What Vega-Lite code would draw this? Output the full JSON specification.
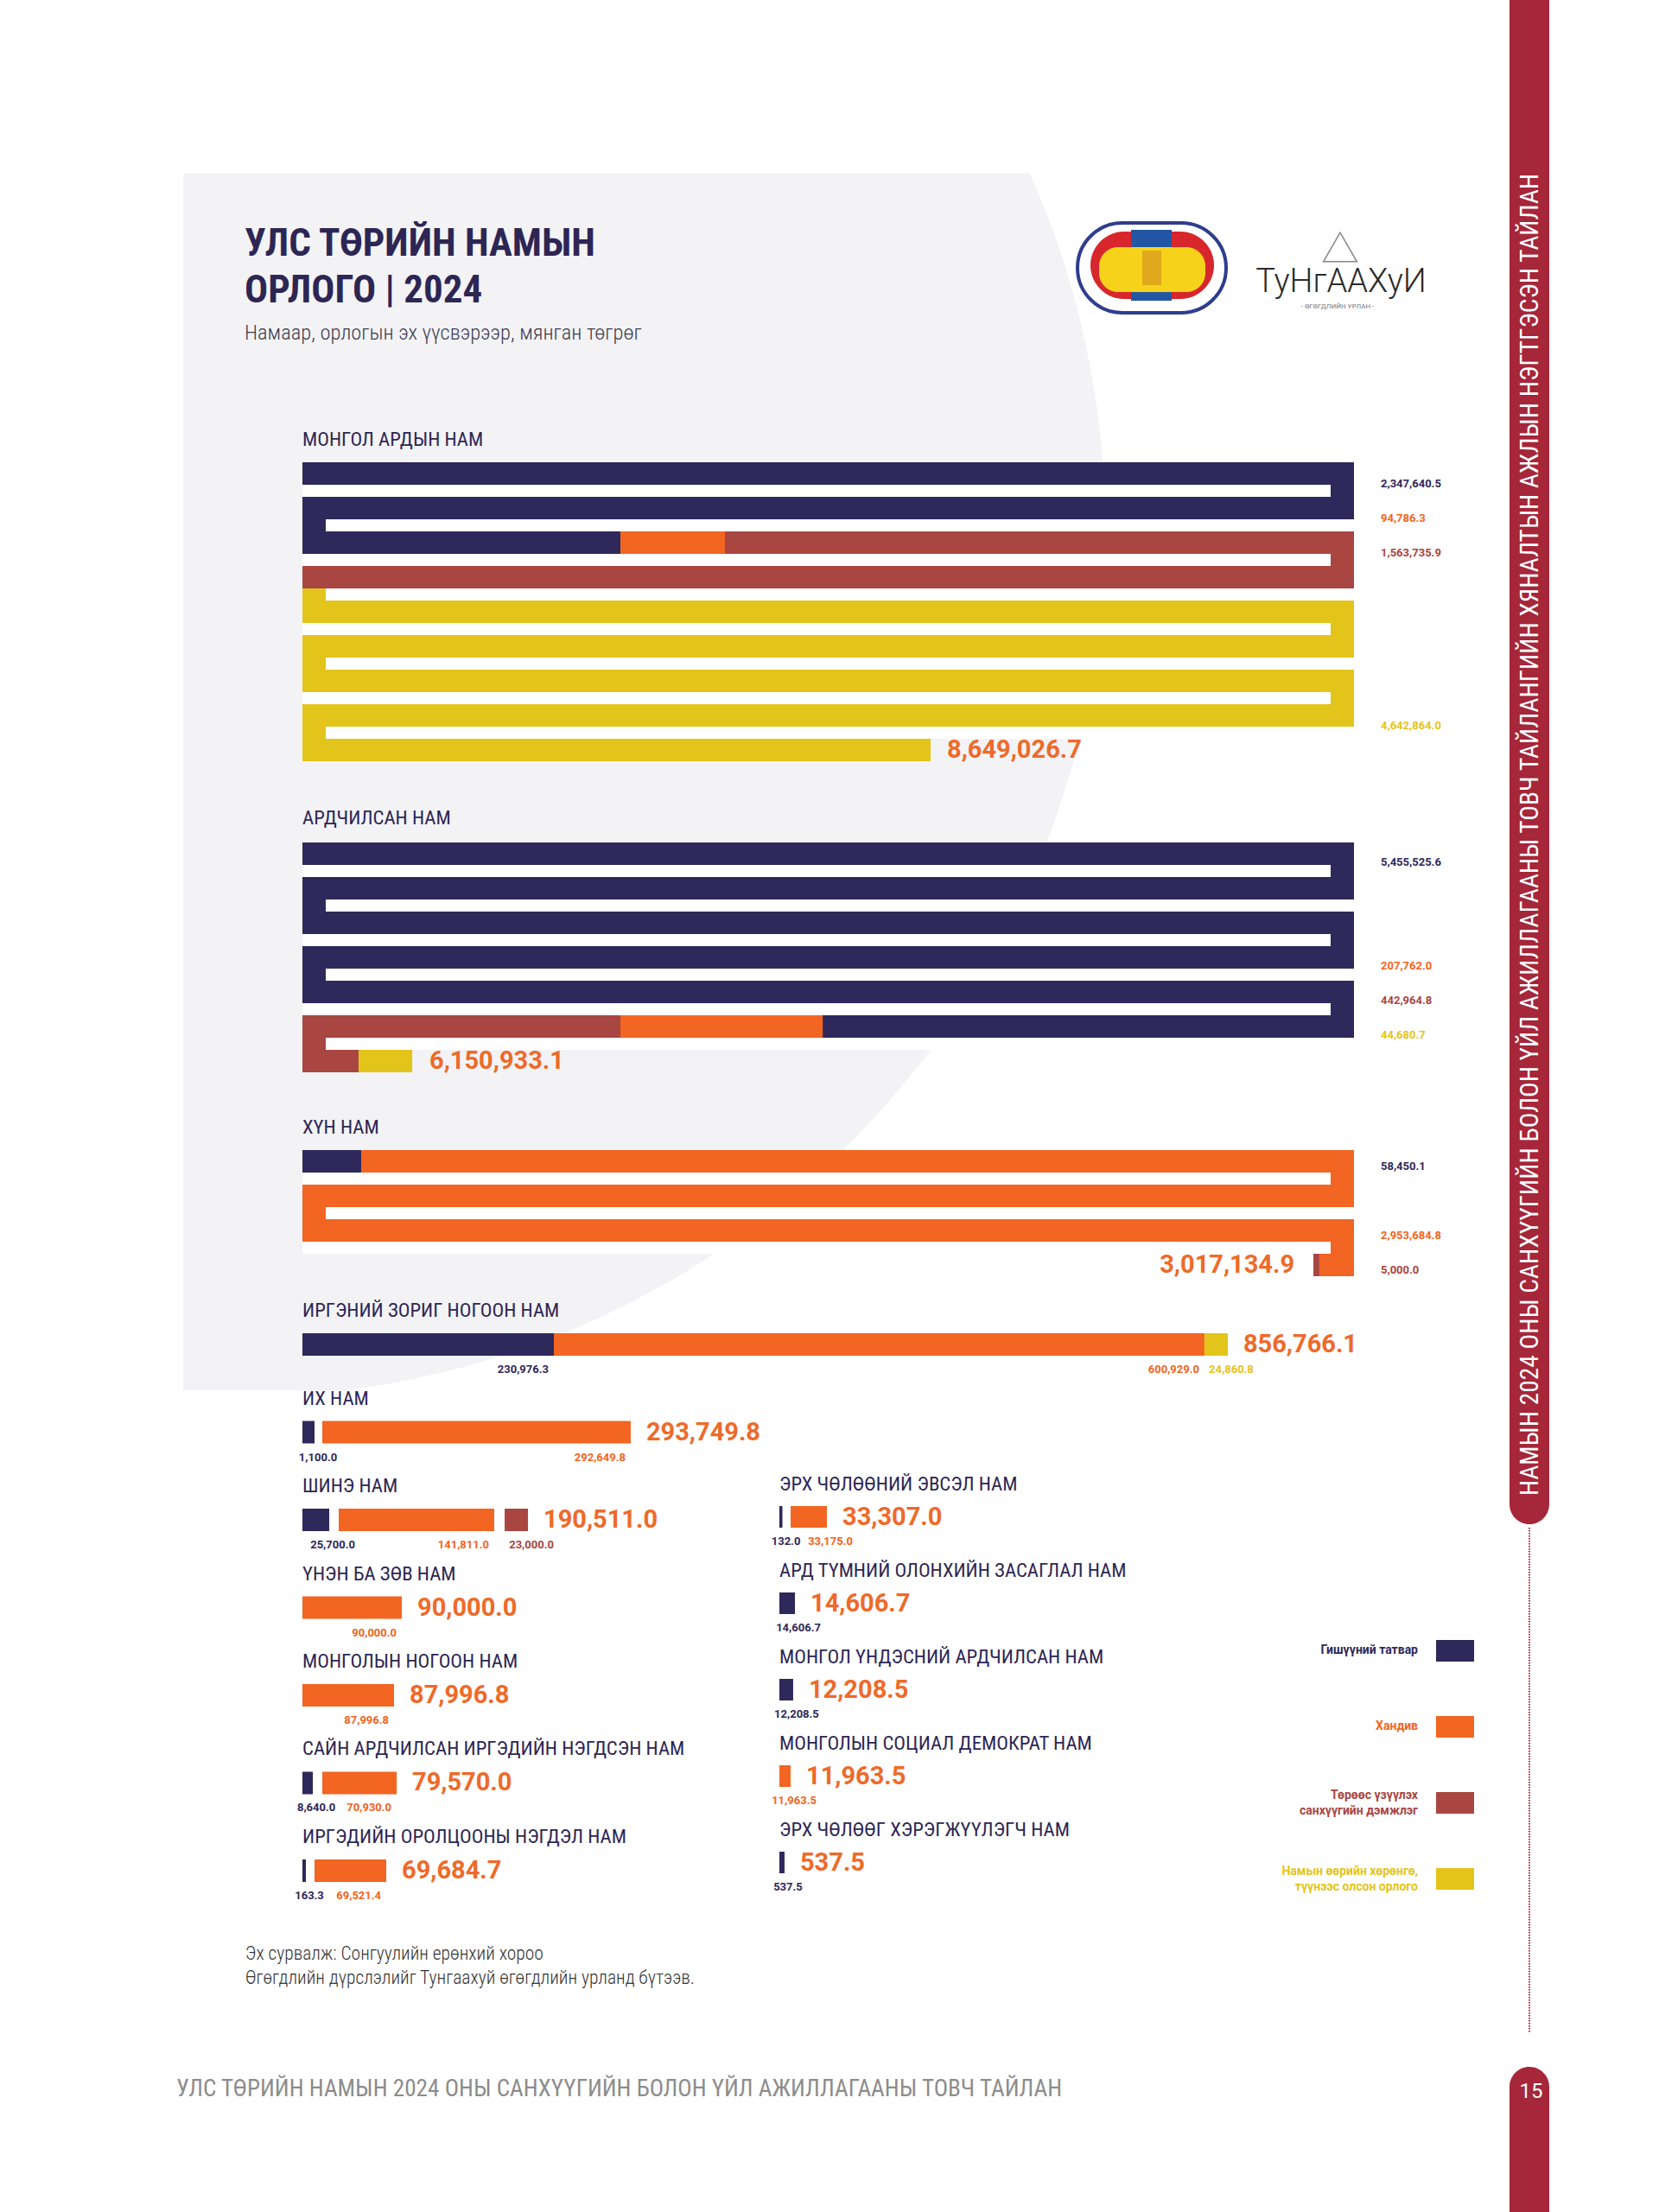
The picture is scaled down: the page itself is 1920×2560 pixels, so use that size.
{
  "$schema": "https://vega.github.io/schema/vega-lite/v6.json",
  "width": 1920,
  "height": 2560,
  "autosize": {"type": "fit", "contains": "padding"},
  "padding": 0,
  "background": "#ffffff",
  "config": {"view": {"stroke": null}, "font": "Roboto"},
  "datasets": {
    "segs": [
      {"party": "МОНГОЛ АРДЫН НАМ", "line": 1, "cat": "Гишүүний татвар", "x0": 0, "x1": 1000000},
      {"party": "МОНГОЛ АРДЫН НАМ", "line": 2, "cat": "Гишүүний татвар", "x0": 0, "x1": 1000000},
      {"party": "МОНГОЛ АРДЫН НАМ", "line": 3, "cat": "Гишүүний татвар", "x0": 0, "x1": 302400},
      {"party": "МОНГОЛ АРДЫН НАМ", "line": 3, "cat": "Хандив", "x0": 302400, "x1": 401800},
      {"party": "МОНГОЛ АРДЫН НАМ", "line": 3, "cat": "Төрөөс үзүүлэх санхүүгийн дэмжлэг", "x0": 401800, "x1": 1000000},
      {"party": "МОНГОЛ АРДЫН НАМ", "line": 4, "cat": "Төрөөс үзүүлэх санхүүгийн дэмжлэг", "x0": 0, "x1": 1000000},
      {"party": "МОНГОЛ АРДЫН НАМ", "line": 5, "cat": "Намын өөрийн хөрөнгө, түүнээс олсон орлого", "x0": 0, "x1": 1000000},
      {"party": "МОНГОЛ АРДЫН НАМ", "line": 6, "cat": "Намын өөрийн хөрөнгө, түүнээс олсон орлого", "x0": 0, "x1": 1000000},
      {"party": "МОНГОЛ АРДЫН НАМ", "line": 7, "cat": "Намын өөрийн хөрөнгө, түүнээс олсон орлого", "x0": 0, "x1": 1000000},
      {"party": "МОНГОЛ АРДЫН НАМ", "line": 8, "cat": "Намын өөрийн хөрөнгө, түүнээс олсон орлого", "x0": 0, "x1": 1000000},
      {"party": "МОНГОЛ АРДЫН НАМ", "line": 9, "cat": "Намын өөрийн хөрөнгө, түүнээс олсон орлого", "x0": 0, "x1": 597400},
      {"party": "АРДЧИЛСАН НАМ", "line": 1, "cat": "Гишүүний татвар", "x0": 0, "x1": 1000000},
      {"party": "АРДЧИЛСАН НАМ", "line": 2, "cat": "Гишүүний татвар", "x0": 0, "x1": 1000000},
      {"party": "АРДЧИЛСАН НАМ", "line": 3, "cat": "Гишүүний татвар", "x0": 0, "x1": 1000000},
      {"party": "АРДЧИЛСАН НАМ", "line": 4, "cat": "Гишүүний татвар", "x0": 0, "x1": 1000000},
      {"party": "АРДЧИЛСАН НАМ", "line": 5, "cat": "Гишүүний татвар", "x0": 0, "x1": 1000000},
      {"party": "АРДЧИЛСАН НАМ", "line": 6, "cat": "Гишүүний татвар", "x0": 494700, "x1": 1000000},
      {"party": "АРДЧИЛСАН НАМ", "line": 6, "cat": "Хандив", "x0": 302400, "x1": 494700},
      {"party": "АРДЧИЛСАН НАМ", "line": 6, "cat": "Төрөөс үзүүлэх санхүүгийн дэмжлэг", "x0": 0, "x1": 302400},
      {"party": "АРДЧИЛСАН НАМ", "line": 7, "cat": "Төрөөс үзүүлэх санхүүгийн дэмжлэг", "x0": 0, "x1": 53400},
      {"party": "АРДЧИЛСАН НАМ", "line": 7, "cat": "Намын өөрийн хөрөнгө, түүнээс олсон орлого", "x0": 53400, "x1": 104400},
      {"party": "ХҮН НАМ", "line": 1, "cat": "Гишүүний татвар", "x0": 0, "x1": 55900},
      {"party": "ХҮН НАМ", "line": 1, "cat": "Хандив", "x0": 55900, "x1": 1000000},
      {"party": "ХҮН НАМ", "line": 2, "cat": "Хандив", "x0": 0, "x1": 1000000},
      {"party": "ХҮН НАМ", "line": 3, "cat": "Хандив", "x0": 0, "x1": 1000000},
      {"party": "ХҮН НАМ", "line": 4, "cat": "Хандив", "x0": 967100, "x1": 1000000},
      {"party": "ХҮН НАМ", "line": 4, "cat": "Төрөөс үзүүлэх санхүүгийн дэмжлэг", "x0": 961400, "x1": 967100}
    ],
    "joints": [
      {"party": "МОНГОЛ АРДЫН НАМ", "line": 1, "side": "R", "cat": "Гишүүний татвар"},
      {"party": "МОНГОЛ АРДЫН НАМ", "line": 2, "side": "L", "cat": "Гишүүний татвар"},
      {"party": "МОНГОЛ АРДЫН НАМ", "line": 3, "side": "R", "cat": "Төрөөс үзүүлэх санхүүгийн дэмжлэг"},
      {"party": "МОНГОЛ АРДЫН НАМ", "line": 4, "side": "L", "cat": "Намын өөрийн хөрөнгө, түүнээс олсон орлого"},
      {"party": "МОНГОЛ АРДЫН НАМ", "line": 5, "side": "R", "cat": "Намын өөрийн хөрөнгө, түүнээс олсон орлого"},
      {"party": "МОНГОЛ АРДЫН НАМ", "line": 6, "side": "L", "cat": "Намын өөрийн хөрөнгө, түүнээс олсон орлого"},
      {"party": "МОНГОЛ АРДЫН НАМ", "line": 7, "side": "R", "cat": "Намын өөрийн хөрөнгө, түүнээс олсон орлого"},
      {"party": "МОНГОЛ АРДЫН НАМ", "line": 8, "side": "L", "cat": "Намын өөрийн хөрөнгө, түүнээс олсон орлого"},
      {"party": "АРДЧИЛСАН НАМ", "line": 1, "side": "R", "cat": "Гишүүний татвар"},
      {"party": "АРДЧИЛСАН НАМ", "line": 2, "side": "L", "cat": "Гишүүний татвар"},
      {"party": "АРДЧИЛСАН НАМ", "line": 3, "side": "R", "cat": "Гишүүний татвар"},
      {"party": "АРДЧИЛСАН НАМ", "line": 4, "side": "L", "cat": "Гишүүний татвар"},
      {"party": "АРДЧИЛСАН НАМ", "line": 5, "side": "R", "cat": "Гишүүний татвар"},
      {"party": "АРДЧИЛСАН НАМ", "line": 6, "side": "L", "cat": "Төрөөс үзүүлэх санхүүгийн дэмжлэг"},
      {"party": "ХҮН НАМ", "line": 1, "side": "R", "cat": "Хандив"},
      {"party": "ХҮН НАМ", "line": 2, "side": "L", "cat": "Хандив"},
      {"party": "ХҮН НАМ", "line": 3, "side": "R", "cat": "Хандив"}
    ],
    "breakdown": [
      {"party": "МОНГОЛ АРДЫН НАМ", "cat": "Гишүүний татвар", "value": 2347640.5, "line": 1},
      {"party": "МОНГОЛ АРДЫН НАМ", "cat": "Хандив", "value": 94786.3, "line": 2},
      {"party": "МОНГОЛ АРДЫН НАМ", "cat": "Төрөөс үзүүлэх санхүүгийн дэмжлэг", "value": 1563735.9, "line": 3},
      {"party": "МОНГОЛ АРДЫН НАМ", "cat": "Намын өөрийн хөрөнгө, түүнээс олсон орлого", "value": 4642864.0, "line": 8},
      {"party": "АРДЧИЛСАН НАМ", "cat": "Гишүүний татвар", "value": 5455525.6, "line": 1},
      {"party": "АРДЧИЛСАН НАМ", "cat": "Хандив", "value": 207762.0, "line": 4},
      {"party": "АРДЧИЛСАН НАМ", "cat": "Төрөөс үзүүлэх санхүүгийн дэмжлэг", "value": 442964.8, "line": 5},
      {"party": "АРДЧИЛСАН НАМ", "cat": "Намын өөрийн хөрөнгө, түүнээс олсон орлого", "value": 44680.7, "line": 6},
      {"party": "ХҮН НАМ", "cat": "Гишүүний татвар", "value": 58450.1, "line": 1},
      {"party": "ХҮН НАМ", "cat": "Хандив", "value": 2953684.8, "line": 3},
      {"party": "ХҮН НАМ", "cat": "Төрөөс үзүүлэх санхүүгийн дэмжлэг", "value": 5000.0, "line": 4}
    ],
    "parties": [
      {"party": "МОНГОЛ АРДЫН НАМ", "total": 8649026.7},
      {"party": "АРДЧИЛСАН НАМ", "total": 6150933.1},
      {"party": "ХҮН НАМ", "total": 3017134.9}
    ],
    "bars": [
      {"party": "ИРГЭНИЙ ЗОРИГ НОГООН НАМ", "col": "L", "slot": 0, "cat": "Гишүүний татвар", "x0": 0, "x1": 239100, "value": 230976.3},
      {"party": "ИРГЭНИЙ ЗОРИГ НОГООН НАМ", "col": "L", "slot": 0, "cat": "Хандив", "x0": 239100, "x1": 857800, "value": 600929.0},
      {"party": "ИРГЭНИЙ ЗОРИГ НОГООН НАМ", "col": "L", "slot": 0, "cat": "Намын өөрийн хөрөнгө, түүнээс олсон орлого", "x0": 857800, "x1": 880000, "value": 24860.8},
      {"party": "ИХ НАМ", "col": "L", "slot": 1, "cat": "Гишүүний татвар", "x0": 0, "x1": 11500, "value": 1100.0},
      {"party": "ИХ НАМ", "col": "L", "slot": 1, "cat": "Хандив", "x0": 18900, "x1": 312200, "value": 292649.8},
      {"party": "ШИНЭ НАМ", "col": "L", "slot": 2, "cat": "Гишүүний татвар", "x0": 0, "x1": 25500, "value": 25700.0},
      {"party": "ШИНЭ НАМ", "col": "L", "slot": 2, "cat": "Хандив", "x0": 34500, "x1": 182400, "value": 141811.0},
      {"party": "ШИНЭ НАМ", "col": "L", "slot": 2, "cat": "Төрөөс үзүүлэх санхүүгийн дэмжлэг", "x0": 192300, "x1": 214500, "value": 23000.0},
      {"party": "ҮНЭН БА ЗӨВ НАМ", "col": "L", "slot": 3, "cat": "Хандив", "x0": 0, "x1": 94500, "value": 90000.0},
      {"party": "МОНГОЛЫН НОГООН НАМ", "col": "L", "slot": 4, "cat": "Хандив", "x0": 0, "x1": 87100, "value": 87996.8},
      {"party": "САЙН АРДЧИЛСАН ИРГЭДИЙН НЭГДСЭН НАМ", "col": "L", "slot": 5, "cat": "Гишүүний татвар", "x0": 0, "x1": 9900, "value": 8640.0},
      {"party": "САЙН АРДЧИЛСАН ИРГЭДИЙН НЭГДСЭН НАМ", "col": "L", "slot": 5, "cat": "Хандив", "x0": 18900, "x1": 89600, "value": 70930.0},
      {"party": "ИРГЭДИЙН ОРОЛЦООНЫ НЭГДЭЛ НАМ", "col": "L", "slot": 6, "cat": "Гишүүний татвар", "x0": 0, "x1": 3300, "value": 163.3},
      {"party": "ИРГЭДИЙН ОРОЛЦООНЫ НЭГДЭЛ НАМ", "col": "L", "slot": 6, "cat": "Хандив", "x0": 11500, "x1": 79700, "value": 69521.4},
      {"party": "ЭРХ ЧӨЛӨӨНИЙ ЭВСЭЛ НАМ", "col": "R", "slot": 2, "cat": "Гишүүний татвар", "x0": 0, "x1": 2900, "value": 132.0},
      {"party": "ЭРХ ЧӨЛӨӨНИЙ ЭВСЭЛ НАМ", "col": "R", "slot": 2, "cat": "Хандив", "x0": 10700, "x1": 45200, "value": 33175.0},
      {"party": "АРД ТҮМНИЙ ОЛОНХИЙН ЗАСАГЛАЛ НАМ", "col": "R", "slot": 3, "cat": "Гишүүний татвар", "x0": 0, "x1": 14800, "value": 14606.7},
      {"party": "МОНГОЛ ҮНДЭСНИЙ АРДЧИЛСАН НАМ", "col": "R", "slot": 4, "cat": "Гишүүний татвар", "x0": 0, "x1": 13100, "value": 12208.5},
      {"party": "МОНГОЛЫН СОЦИАЛ ДЕМОКРАТ НАМ", "col": "R", "slot": 5, "cat": "Хандив", "x0": 0, "x1": 10700, "value": 11963.5},
      {"party": "ЭРХ ЧӨЛӨӨГ ХЭРЭГЖҮҮЛЭГЧ НАМ", "col": "R", "slot": 6, "cat": "Гишүүний татвар", "x0": 0, "x1": 4900, "value": 537.5}
    ],
    "legend": [
      {"cat": "Гишүүний татвар", "label": "Гишүүний татвар"},
      {"cat": "Хандив", "label": "Хандив"},
      {"cat": "Төрөөс үзүүлэх санхүүгийн дэмжлэг", "label": "Төрөөс үзүүлэх\nсанхүүгийн дэмжлэг"},
      {"cat": "Намын өөрийн хөрөнгө, түүнээс олсон орлого", "label": "Намын өөрийн хөрөнгө,\nтүүнээс олсон орлого"}
    ]
  },
  "resolve": {"scale": {"x": "independent", "y": "independent"}},
  "layer": [
    {
      "data": {"values": [{"item": "panel"}]},
      "layer": [
        {"mark": {"type": "rect", "color": "#f3f3f6", "cornerRadius": 1006, "clip": true},
         "encoding": {"x": {"datum": -733, "type": "quantitative", "scale": {"domain": [0, 1920], "range": [0, 1920], "nice": false, "zero": false}, "axis": null}, "x2": {"datum": 1279},
                      "y": {"datum": -395, "type": "quantitative", "scale": {"domain": [0, 2560], "range": [0, 2560], "nice": false, "zero": false}, "axis": null}, "y2": {"datum": 1617}}},
        {"mark": {"type": "rect", "color": "#ffffff"},
         "encoding": {"x": {"datum": 0, "type": "quantitative", "axis": null}, "x2": {"datum": 212}, "y": {"datum": 0, "type": "quantitative", "axis": null}, "y2": {"datum": 1650}}},
        {"mark": {"type": "rect", "color": "#ffffff"},
         "encoding": {"x": {"datum": 0, "type": "quantitative", "axis": null}, "x2": {"datum": 1320}, "y": {"datum": 0, "type": "quantitative", "axis": null}, "y2": {"datum": 201}}},
        {"mark": {"type": "rect", "color": "#ffffff"},
         "encoding": {"x": {"datum": 0, "type": "quantitative", "axis": null}, "x2": {"datum": 1320}, "y": {"datum": 1609, "type": "quantitative", "axis": null}, "y2": {"datum": 1650}}},
        {"mark": {"type": "rect", "color": "#a6263a", "cornerRadiusBottomLeft": 23, "cornerRadiusBottomRight": 23},
         "encoding": {"x": {"datum": 1747, "type": "quantitative", "axis": null}, "x2": {"datum": 1793}, "y": {"datum": 0, "type": "quantitative", "axis": null}, "y2": {"datum": 1764}}},
        {"mark": {"type": "rect", "color": "#a6263a", "cornerRadiusTopLeft": 23, "cornerRadiusTopRight": 23},
         "encoding": {"x": {"datum": 1747, "type": "quantitative", "axis": null}, "x2": {"datum": 1793}, "y": {"datum": 2392, "type": "quantitative", "axis": null}, "y2": {"datum": 2560}}},
        {"mark": {"type": "rule", "color": "#a6263a", "strokeWidth": 2, "strokeDash": [1.5, 1.5]},
         "encoding": {"x": {"datum": 1770, "type": "quantitative", "axis": null}, "y": {"datum": 1768, "type": "quantitative", "axis": null}, "y2": {"datum": 2352}}},
        {"mark": {"type": "text", "text": "НАМЫН 2024 ОНЫ САНХҮҮГИЙН БОЛОН ҮЙЛ АЖИЛЛАГААНЫ ТОВЧ ТАЙЛАНГИЙН ХЯНАЛТЫН АЖЛЫН НЭГТГЭСЭН ТАЙЛАН", "angle": 270, "align": "center", "baseline": "middle", "font": "Roboto Condensed", "fontSize": 29.4, "color": "#ffffff"},
         "encoding": {"x": {"datum": 1771, "type": "quantitative", "axis": null}, "y": {"datum": 966, "type": "quantitative", "axis": null}}},
        {"mark": {"type": "text", "text": "15", "align": "center", "baseline": "middle", "fontSize": 24, "letterSpacing": 4, "color": "#ffffff"},
         "encoding": {"x": {"datum": 1772, "type": "quantitative", "axis": null}, "y": {"datum": 2421, "type": "quantitative", "axis": null}}},
        {"mark": {"type": "text", "text": "УЛС ТӨРИЙН НАМЫН\nОРЛОГО | 2024", "lineBreak": "\n", "lineHeight": 54, "align": "left", "baseline": "middle", "font": "Roboto Condensed", "fontWeight": "bold", "fontSize": 45, "color": "#2d2654"},
         "encoding": {"x": {"datum": 283, "type": "quantitative", "axis": null}, "y": {"datum": 282, "type": "quantitative", "axis": null}}},
        {"mark": {"type": "text", "text": "Намаар, орлогын эх үүсвэрээр, мянган төгрөг", "align": "left", "baseline": "middle", "font": "Roboto Condensed", "fontSize": 24.5, "fontWeight": 300, "color": "#3b3b4d"},
         "encoding": {"x": {"datum": 283, "type": "quantitative", "axis": null}, "y": {"datum": 386, "type": "quantitative", "axis": null}}},
        {"mark": {"type": "rect", "fill": "#ffffff", "stroke": "#2e3d8f", "strokeWidth": 4, "cornerRadius": 52},
         "encoding": {"x": {"datum": 1247, "type": "quantitative", "axis": null}, "x2": {"datum": 1419}, "y": {"datum": 258, "type": "quantitative", "axis": null}, "y2": {"datum": 362}}},
        {"mark": {"type": "rect", "fill": "#d8262d", "cornerRadius": 39},
         "encoding": {"x": {"datum": 1262, "type": "quantitative", "axis": null}, "x2": {"datum": 1405}, "y": {"datum": 268, "type": "quantitative", "axis": null}, "y2": {"datum": 346}}},
        {"mark": {"type": "rect", "fill": "#2357a5"},
         "encoding": {"x": {"datum": 1309, "type": "quantitative", "axis": null}, "x2": {"datum": 1356}, "y": {"datum": 266, "type": "quantitative", "axis": null}, "y2": {"datum": 348}}},
        {"mark": {"type": "rect", "fill": "#f6d21a", "cornerRadius": 22},
         "encoding": {"x": {"datum": 1272, "type": "quantitative", "axis": null}, "x2": {"datum": 1395}, "y": {"datum": 286, "type": "quantitative", "axis": null}, "y2": {"datum": 338}}},
        {"mark": {"type": "rect", "fill": "#e0a81c"},
         "encoding": {"x": {"datum": 1322, "type": "quantitative", "axis": null}, "x2": {"datum": 1344}, "y": {"datum": 290, "type": "quantitative", "axis": null}, "y2": {"datum": 330}}},
        {"mark": {"type": "point", "shape": "triangle-up", "filled": false, "stroke": "#555555", "strokeWidth": 1.5, "size": 1500},
         "encoding": {"x": {"datum": 1551, "type": "quantitative", "axis": null}, "y": {"datum": 286, "type": "quantitative", "axis": null}}},
        {"mark": {"type": "text", "text": "ТуНгААХуИ", "align": "center", "baseline": "middle", "fontSize": 38, "fontWeight": 300, "letterSpacing": 1, "color": "#2b2b2b"},
         "encoding": {"x": {"datum": 1552, "type": "quantitative", "axis": null}, "y": {"datum": 327, "type": "quantitative", "axis": null}}},
        {"mark": {"type": "text", "text": "- ӨГӨГДЛИЙН УРЛАН -", "align": "center", "baseline": "middle", "fontSize": 8, "letterSpacing": 2.5, "color": "#777777"},
         "encoding": {"x": {"datum": 1548, "type": "quantitative", "axis": null}, "y": {"datum": 355, "type": "quantitative", "axis": null}}},
        {"mark": {"type": "text", "text": "Эх сурвалж: Сонгуулийн ерөнхий хороо\nӨгөгдлийн дүрслэлийг Тунгаахуй өгөгдлийн урланд бүтээв.", "lineBreak": "\n", "lineHeight": 28, "align": "left", "baseline": "middle", "font": "Roboto Condensed", "fontSize": 21.5, "fontWeight": 300, "color": "#333333"},
         "encoding": {"x": {"datum": 284, "type": "quantitative", "axis": null}, "y": {"datum": 2262, "type": "quantitative", "axis": null}}},
        {"mark": {"type": "text", "text": "УЛС ТӨРИЙН НАМЫН  2024 ОНЫ САНХҮҮГИЙН  БОЛОН ҮЙЛ АЖИЛЛАГААНЫ  ТОВЧ ТАЙЛАН", "align": "left", "baseline": "middle", "font": "Roboto Condensed", "fontSize": 27.2, "color": "#8c8c8c"},
         "encoding": {"x": {"datum": 204, "type": "quantitative", "axis": null}, "y": {"datum": 2418, "type": "quantitative", "axis": null}}}
      ]
    },
    {
      "layer": [
        {"data": {"name": "joints"}, "transform": [{"filter": "datum.party == 'МОНГОЛ АРДЫН НАМ'"}],
         "mark": {"type": "bar", "orient": "horizontal", "height": 14, "yOffset": 20, "color": "#ffffff"},
         "encoding": {"y": {"field": "line", "type": "ordinal", "scale": {"type": "band", "domain": [1, 2, 3, 4, 5, 6, 7, 8, 9], "range": [535, 881], "paddingInner": 0.35, "paddingOuter": 0}, "axis": null},
                      "x": {"datum": 0, "type": "quantitative", "scale": {"domain": [0, 1000000], "range": [350, 1567], "nice": false, "zero": false}, "axis": null}, "x2": {"datum": 1000000}}},
        {"data": {"name": "joints"}, "transform": [{"filter": "datum.party == 'МОНГОЛ АРДЫН НАМ' && datum.side == 'R'"}],
         "mark": {"type": "bar", "orient": "horizontal", "height": 14, "yOffset": 20},
         "encoding": {"y": {"field": "line", "type": "ordinal", "axis": null}, "x": {"datum": 977800, "type": "quantitative", "axis": null}, "x2": {"datum": 1000000},
                      "color": {"field": "cat", "type": "nominal", "scale": {"domain": ["Гишүүний татвар", "Хандив", "Төрөөс үзүүлэх санхүүгийн дэмжлэг", "Намын өөрийн хөрөнгө, түүнээс олсон орлого"], "range": ["#2f285a", "#f26522", "#a94642", "#e3c41b"]}, "legend": null}}},
        {"data": {"name": "joints"}, "transform": [{"filter": "datum.party == 'МОНГОЛ АРДЫН НАМ' && datum.side == 'L'"}],
         "mark": {"type": "bar", "orient": "horizontal", "height": 14, "yOffset": 20},
         "encoding": {"y": {"field": "line", "type": "ordinal", "axis": null}, "x": {"datum": 0, "type": "quantitative", "axis": null}, "x2": {"datum": 22200},
                      "color": {"field": "cat", "type": "nominal", "legend": null}}},
        {"data": {"name": "segs"}, "transform": [{"filter": "datum.party == 'МОНГОЛ АРДЫН НАМ'"}],
         "mark": {"type": "bar", "orient": "horizontal"},
         "encoding": {"y": {"field": "line", "type": "ordinal", "axis": null}, "x": {"field": "x0", "type": "quantitative", "axis": null}, "x2": {"field": "x1"},
                      "color": {"field": "cat", "type": "nominal", "legend": null}}},
        {"data": {"name": "breakdown"}, "transform": [{"filter": "datum.party == 'МОНГОЛ АРДЫН НАМ'"}],
         "mark": {"type": "text", "align": "left", "baseline": "middle", "dx": 31, "dy": 12, "fontSize": 13, "fontWeight": "bold"},
         "encoding": {"y": {"field": "line", "type": "ordinal", "axis": null}, "x": {"datum": 1000000, "type": "quantitative", "axis": null},
                      "text": {"field": "value", "type": "quantitative", "format": ",.1f"}, "color": {"field": "cat", "type": "nominal", "legend": null}}},
        {"data": {"name": "segs"}, "transform": [{"filter": "datum.party == 'МОНГОЛ АРДЫН НАМ' && datum.line == 9"}, {"aggregate": [{"op": "max", "field": "x1", "as": "end"}], "groupby": ["party", "line"]}, {"lookup": "party", "from": {"data": {"name": "parties"}, "key": "party", "fields": ["total"]}}],
         "mark": {"type": "text", "align": "left", "baseline": "middle", "dx": 19, "fontSize": 29, "fontWeight": "bold", "color": "#ee6a2a"},
         "encoding": {"y": {"field": "line", "type": "ordinal", "axis": null}, "x": {"field": "end", "type": "quantitative", "axis": null}, "text": {"field": "total", "type": "quantitative", "format": ",.1f"}}},
        {"data": {"name": "parties"}, "transform": [{"filter": "datum.party == 'МОНГОЛ АРДЫН НАМ'"}],
         "mark": {"type": "text", "align": "left", "baseline": "middle", "dy": -39, "font": "Roboto Condensed", "fontSize": 22.8, "color": "#2d2654"},
         "encoding": {"y": {"datum": 1, "type": "ordinal", "axis": null}, "x": {"datum": 0, "type": "quantitative", "axis": null}, "text": {"field": "party"}}}
      ]
    },
    {
      "layer": [
        {"data": {"name": "joints"}, "transform": [{"filter": "datum.party == 'АРДЧИЛСАН НАМ'"}],
         "mark": {"type": "bar", "orient": "horizontal", "height": 14, "yOffset": 20, "color": "#ffffff"},
         "encoding": {"y": {"field": "line", "type": "ordinal", "scale": {"type": "band", "domain": [1, 2, 3, 4, 5, 6, 7], "range": [975, 1241], "paddingInner": 0.35, "paddingOuter": 0}, "axis": null},
                      "x": {"datum": 0, "type": "quantitative", "scale": {"domain": [0, 1000000], "range": [350, 1567], "nice": false, "zero": false}, "axis": null}, "x2": {"datum": 1000000}}},
        {"data": {"name": "joints"}, "transform": [{"filter": "datum.party == 'АРДЧИЛСАН НАМ' && datum.side == 'R'"}],
         "mark": {"type": "bar", "orient": "horizontal", "height": 14, "yOffset": 20},
         "encoding": {"y": {"field": "line", "type": "ordinal", "axis": null}, "x": {"datum": 977800, "type": "quantitative", "axis": null}, "x2": {"datum": 1000000},
                      "color": {"field": "cat", "type": "nominal", "legend": null}}},
        {"data": {"name": "joints"}, "transform": [{"filter": "datum.party == 'АРДЧИЛСАН НАМ' && datum.side == 'L'"}],
         "mark": {"type": "bar", "orient": "horizontal", "height": 14, "yOffset": 20},
         "encoding": {"y": {"field": "line", "type": "ordinal", "axis": null}, "x": {"datum": 0, "type": "quantitative", "axis": null}, "x2": {"datum": 22200},
                      "color": {"field": "cat", "type": "nominal", "legend": null}}},
        {"data": {"name": "segs"}, "transform": [{"filter": "datum.party == 'АРДЧИЛСАН НАМ'"}],
         "mark": {"type": "bar", "orient": "horizontal"},
         "encoding": {"y": {"field": "line", "type": "ordinal", "axis": null}, "x": {"field": "x0", "type": "quantitative", "axis": null}, "x2": {"field": "x1"},
                      "color": {"field": "cat", "type": "nominal", "legend": null}}},
        {"data": {"name": "breakdown"}, "transform": [{"filter": "datum.party == 'АРДЧИЛСАН НАМ'"}],
         "mark": {"type": "text", "align": "left", "baseline": "middle", "dx": 31, "dy": 10, "fontSize": 13, "fontWeight": "bold"},
         "encoding": {"y": {"field": "line", "type": "ordinal", "axis": null}, "x": {"datum": 1000000, "type": "quantitative", "axis": null},
                      "text": {"field": "value", "type": "quantitative", "format": ",.1f"}, "color": {"field": "cat", "type": "nominal", "legend": null}}},
        {"data": {"name": "segs"}, "transform": [{"filter": "datum.party == 'АРДЧИЛСАН НАМ' && datum.line == 7"}, {"aggregate": [{"op": "max", "field": "x1", "as": "end"}], "groupby": ["party", "line"]}, {"lookup": "party", "from": {"data": {"name": "parties"}, "key": "party", "fields": ["total"]}}],
         "mark": {"type": "text", "align": "left", "baseline": "middle", "dx": 20, "fontSize": 29, "fontWeight": "bold", "color": "#ee6a2a"},
         "encoding": {"y": {"field": "line", "type": "ordinal", "axis": null}, "x": {"field": "end", "type": "quantitative", "axis": null}, "text": {"field": "total", "type": "quantitative", "format": ",.1f"}}},
        {"data": {"name": "parties"}, "transform": [{"filter": "datum.party == 'АРДЧИЛСАН НАМ'"}],
         "mark": {"type": "text", "align": "left", "baseline": "middle", "dy": -41, "font": "Roboto Condensed", "fontSize": 22.8, "color": "#2d2654"},
         "encoding": {"y": {"datum": 1, "type": "ordinal", "axis": null}, "x": {"datum": 0, "type": "quantitative", "axis": null}, "text": {"field": "party"}}}
      ]
    },
    {
      "layer": [
        {"data": {"name": "joints"}, "transform": [{"filter": "datum.party == 'ХҮН НАМ'"}],
         "mark": {"type": "bar", "orient": "horizontal", "height": 14, "yOffset": 20, "color": "#ffffff"},
         "encoding": {"y": {"field": "line", "type": "ordinal", "scale": {"type": "band", "domain": [1, 2, 3, 4], "range": [1331, 1477], "paddingInner": 0.35, "paddingOuter": 0}, "axis": null},
                      "x": {"datum": 0, "type": "quantitative", "scale": {"domain": [0, 1000000], "range": [350, 1567], "nice": false, "zero": false}, "axis": null}, "x2": {"datum": 1000000}}},
        {"data": {"name": "joints"}, "transform": [{"filter": "datum.party == 'ХҮН НАМ' && datum.side == 'R'"}],
         "mark": {"type": "bar", "orient": "horizontal", "height": 14, "yOffset": 20},
         "encoding": {"y": {"field": "line", "type": "ordinal", "axis": null}, "x": {"datum": 977800, "type": "quantitative", "axis": null}, "x2": {"datum": 1000000},
                      "color": {"field": "cat", "type": "nominal", "legend": null}}},
        {"data": {"name": "joints"}, "transform": [{"filter": "datum.party == 'ХҮН НАМ' && datum.side == 'L'"}],
         "mark": {"type": "bar", "orient": "horizontal", "height": 14, "yOffset": 20},
         "encoding": {"y": {"field": "line", "type": "ordinal", "axis": null}, "x": {"datum": 0, "type": "quantitative", "axis": null}, "x2": {"datum": 22200},
                      "color": {"field": "cat", "type": "nominal", "legend": null}}},
        {"data": {"name": "segs"}, "transform": [{"filter": "datum.party == 'ХҮН НАМ'"}],
         "mark": {"type": "bar", "orient": "horizontal"},
         "encoding": {"y": {"field": "line", "type": "ordinal", "axis": null}, "x": {"field": "x0", "type": "quantitative", "axis": null}, "x2": {"field": "x1"},
                      "color": {"field": "cat", "type": "nominal", "legend": null}}},
        {"data": {"name": "breakdown"}, "transform": [{"filter": "datum.party == 'ХҮН НАМ'"}],
         "mark": {"type": "text", "align": "left", "baseline": "middle", "dx": 31, "dy": 6, "fontSize": 13, "fontWeight": "bold"},
         "encoding": {"y": {"field": "line", "type": "ordinal", "axis": null}, "x": {"datum": 1000000, "type": "quantitative", "axis": null},
                      "text": {"field": "value", "type": "quantitative", "format": ",.1f"}, "color": {"field": "cat", "type": "nominal", "legend": null}}},
        {"data": {"name": "segs"}, "transform": [{"filter": "datum.party == 'ХҮН НАМ' && datum.line == 4"}, {"aggregate": [{"op": "min", "field": "x0", "as": "end"}], "groupby": ["party", "line"]}, {"lookup": "party", "from": {"data": {"name": "parties"}, "key": "party", "fields": ["total"]}}],
         "mark": {"type": "text", "align": "right", "baseline": "middle", "dx": -22, "fontSize": 29, "fontWeight": "bold", "color": "#ee6a2a"},
         "encoding": {"y": {"field": "line", "type": "ordinal", "axis": null}, "x": {"field": "end", "type": "quantitative", "axis": null}, "text": {"field": "total", "type": "quantitative", "format": ",.1f"}}},
        {"data": {"name": "parties"}, "transform": [{"filter": "datum.party == 'ХҮН НАМ'"}],
         "mark": {"type": "text", "align": "left", "baseline": "middle", "dy": -39, "font": "Roboto Condensed", "fontSize": 22.8, "color": "#2d2654"},
         "encoding": {"y": {"datum": 1, "type": "ordinal", "axis": null}, "x": {"datum": 0, "type": "quantitative", "axis": null}, "text": {"field": "party"}}}
      ]
    },
    {
      "data": {"name": "bars"},
      "transform": [{"filter": "datum.col == 'L'"}],
      "layer": [
        {"mark": {"type": "bar", "orient": "horizontal"},
         "encoding": {"y": {"field": "slot", "type": "ordinal", "scale": {"type": "band", "domain": [0, 1, 2, 3, 4, 5, 6], "range": [1543, 2178], "paddingInner": 0.7438, "paddingOuter": 0}, "axis": null},
                      "x": {"field": "x0", "type": "quantitative", "scale": {"domain": [0, 1000000], "range": [350, 1567], "nice": false, "zero": false}, "axis": null}, "x2": {"field": "x1"},
                      "color": {"field": "cat", "type": "nominal", "legend": null}}},
        {"transform": [{"aggregate": [{"op": "max", "field": "x1", "as": "end"}, {"op": "sum", "field": "value", "as": "total"}], "groupby": ["party", "slot"]}],
         "mark": {"type": "text", "align": "left", "baseline": "middle", "dy": -39, "font": "Roboto Condensed", "fontSize": 22.8, "color": "#2d2654"},
         "encoding": {"y": {"field": "slot", "type": "ordinal", "axis": null}, "x": {"datum": 0, "type": "quantitative", "axis": null}, "text": {"field": "party"}}},
        {"transform": [{"aggregate": [{"op": "max", "field": "x1", "as": "end"}, {"op": "sum", "field": "value", "as": "total"}], "groupby": ["party", "slot"]}],
         "mark": {"type": "text", "align": "left", "baseline": "middle", "dx": 18, "fontSize": 29, "fontWeight": "bold", "color": "#ee6a2a"},
         "encoding": {"y": {"field": "slot", "type": "ordinal", "axis": null}, "x": {"field": "end", "type": "quantitative", "axis": null}, "text": {"field": "total", "type": "quantitative", "format": ",.1f"}}},
        {"transform": [{"filter": "datum.x1 - datum.x0 >= 37000"}],
         "mark": {"type": "text", "align": "right", "baseline": "middle", "dx": -6, "dy": 29, "fontSize": 13, "fontWeight": "bold"},
         "encoding": {"y": {"field": "slot", "type": "ordinal", "axis": null}, "x": {"field": "x1", "type": "quantitative", "axis": null}, "text": {"field": "value", "type": "quantitative", "format": ",.1f"}, "color": {"field": "cat", "type": "nominal", "legend": null}}},
        {"transform": [{"filter": "datum.x1 - datum.x0 < 37000"}],
         "mark": {"type": "text", "align": "center", "baseline": "middle", "dx": 4, "dy": 29, "fontSize": 13, "fontWeight": "bold"},
         "encoding": {"y": {"field": "slot", "type": "ordinal", "axis": null}, "x": {"field": "x1", "type": "quantitative", "axis": null}, "text": {"field": "value", "type": "quantitative", "format": ",.1f"}, "color": {"field": "cat", "type": "nominal", "legend": null}}}
      ]
    },
    {
      "data": {"name": "bars"},
      "transform": [{"filter": "datum.col == 'R'"}],
      "layer": [
        {"mark": {"type": "bar", "orient": "horizontal"},
         "encoding": {"y": {"field": "slot", "type": "ordinal", "scale": {"type": "band", "domain": [2, 3, 4, 5, 6], "range": [1743, 2168], "paddingInner": 0.75, "paddingOuter": 0}, "axis": null},
                      "x": {"field": "x0", "type": "quantitative", "scale": {"domain": [0, 1000000], "range": [902, 2119], "nice": false, "zero": false}, "axis": null}, "x2": {"field": "x1"},
                      "color": {"field": "cat", "type": "nominal", "legend": null}}},
        {"transform": [{"aggregate": [{"op": "max", "field": "x1", "as": "end"}, {"op": "sum", "field": "value", "as": "total"}], "groupby": ["party", "slot"]}],
         "mark": {"type": "text", "align": "left", "baseline": "middle", "dy": -38, "font": "Roboto Condensed", "fontSize": 22.8, "color": "#2d2654"},
         "encoding": {"y": {"field": "slot", "type": "ordinal", "axis": null}, "x": {"datum": 0, "type": "quantitative", "axis": null}, "text": {"field": "party"}}},
        {"transform": [{"aggregate": [{"op": "max", "field": "x1", "as": "end"}, {"op": "sum", "field": "value", "as": "total"}], "groupby": ["party", "slot"]}],
         "mark": {"type": "text", "align": "left", "baseline": "middle", "dx": 18, "fontSize": 29, "fontWeight": "bold", "color": "#ee6a2a"},
         "encoding": {"y": {"field": "slot", "type": "ordinal", "axis": null}, "x": {"field": "end", "type": "quantitative", "axis": null}, "text": {"field": "total", "type": "quantitative", "format": ",.1f"}}},
        {"mark": {"type": "text", "align": "center", "baseline": "middle", "dx": 4, "dy": 28, "fontSize": 13, "fontWeight": "bold"},
         "encoding": {"y": {"field": "slot", "type": "ordinal", "axis": null}, "x": {"field": "x1", "type": "quantitative", "axis": null}, "text": {"field": "value", "type": "quantitative", "format": ",.1f"}, "color": {"field": "cat", "type": "nominal", "legend": null}}}
      ]
    },
    {
      "data": {"name": "legend"},
      "layer": [
        {"mark": {"type": "bar", "orient": "horizontal"},
         "encoding": {"y": {"field": "cat", "type": "nominal", "sort": null, "scale": {"type": "band", "domain": ["Гишүүний татвар", "Хандив", "Төрөөс үзүүлэх санхүүгийн дэмжлэг", "Намын өөрийн хөрөнгө, түүнээс олсон орлого"], "range": [1898, 2187], "paddingInner": 0.716, "paddingOuter": 0}, "axis": null},
                      "x": {"datum": 0, "type": "quantitative", "scale": {"domain": [0, 1], "range": [1662, 1706], "nice": false, "zero": false}, "axis": null}, "x2": {"datum": 1},
                      "color": {"field": "cat", "type": "nominal", "legend": null}}},
        {"transform": [{"filter": "datum.cat != 'Гишүүний татвар' && datum.cat != 'Хандив'"}],
         "mark": {"type": "text", "align": "right", "baseline": "middle", "dx": -21, "dy": -9, "lineBreak": "\n", "lineHeight": 18, "fontSize": 14, "fontWeight": "bold"},
         "encoding": {"y": {"field": "cat", "type": "nominal", "sort": null, "axis": null}, "x": {"datum": 0, "type": "quantitative", "axis": null},
                      "text": {"field": "label"}, "color": {"field": "cat", "type": "nominal", "legend": null}}},
        {"transform": [{"filter": "datum.cat == 'Гишүүний татвар' || datum.cat == 'Хандив'"}],
         "mark": {"type": "text", "align": "right", "baseline": "middle", "dx": -21, "fontSize": 14, "fontWeight": "bold"},
         "encoding": {"y": {"field": "cat", "type": "nominal", "sort": null, "axis": null}, "x": {"datum": 0, "type": "quantitative", "axis": null},
                      "text": {"field": "label"}, "color": {"field": "cat", "type": "nominal", "legend": null}}}
      ]
    }
  ]
}
